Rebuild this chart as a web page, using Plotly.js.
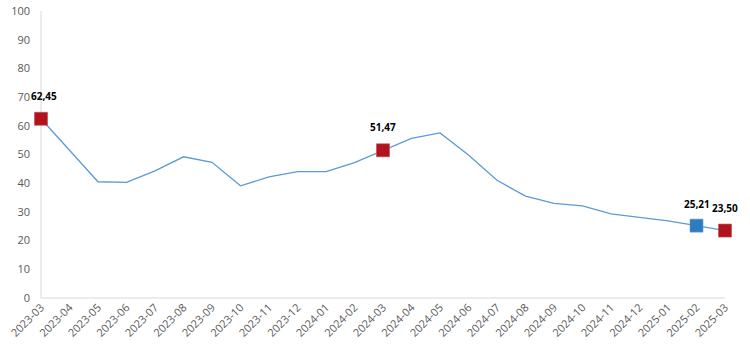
<!DOCTYPE html>
<html>
<head>
<meta charset="utf-8">
<script src="https://cdn.plot.ly/plotly-3.0.1.min.js"></script>
<style>html,body{margin:0;padding:0;background:#fff;}#chart{width:750px;height:353px;}</style>
</head>
<body>
<div id="chart"></div>
<script>
const months = ["2023-03","2023-04","2023-05","2023-06","2023-07","2023-08","2023-09","2023-10","2023-11","2023-12","2024-01","2024-02","2024-03","2024-04","2024-05","2024-06","2024-07","2024-08","2024-09","2024-10","2024-11","2024-12","2025-01","2025-02","2025-03"];
const values = [62.45,51.6,40.5,40.3,44.3,49.2,47.3,39.1,42.2,44.0,44.0,47.2,51.47,55.6,57.5,49.8,41.0,35.5,33.0,32.1,29.3,28.2,26.9,25.21,23.50];
const redMonths = ["2023-03","2024-03","2025-03"];
const redValues = [62.45,51.47,23.50];
const blueMonths = ["2025-02"];
const blueValues = [25.21];
const yTicks = [0,10,20,30,40,50,60,70,80,90,100];

const fmt = v => v.toFixed(2).replace('.', ',');

const traces = [
  {x: months, y: values, type: 'scatter', mode: 'lines', line: {color: '#5b9bd5', width: 1.3}, hoverinfo: 'skip'},
  {x: redMonths, y: redValues, type: 'scatter', mode: 'markers', marker: {symbol: 'square', size: 13, color: '#b0131d', line: {color: '#c8474f', width: 0.6}}, cliponaxis: false},
  {x: blueMonths, y: blueValues, type: 'scatter', mode: 'markers', marker: {symbol: 'square', size: 13, color: '#2e7bbf', line: {color: '#5c9bd3', width: 0.6}}, cliponaxis: false}
];

const annotations = [];
redMonths.forEach((m, i) => annotations.push({x: m, y: redValues[i], text: '<b>' + fmt(redValues[i]) + '</b>', showarrow: false, yshift: 23, xshift: i === 0 ? 3 : 0, font: {size: 10, color: '#000', family: 'Open Sans, sans-serif'}}));
blueMonths.forEach((m, i) => annotations.push({x: m, y: blueValues[i], text: '<b>' + fmt(blueValues[i]) + '</b>', showarrow: false, yshift: 22, font: {size: 10, color: '#000', family: 'Open Sans, sans-serif'}}));

const layout = {
  width: 750, height: 353,
  margin: {l: 41, r: 25, t: 11, b: 55},
  paper_bgcolor: '#fff', plot_bgcolor: '#fff',
  showlegend: false,
  font: {family: 'Open Sans, sans-serif', color: '#595959', size: 11},
  xaxis: {
    type: 'category', categoryorder: 'array', categoryarray: months,
    range: [0, months.length - 1],
    tickangle: -45, showgrid: false, zeroline: false,
    showline: false,
    ticks: '', tickfont: {size: 11, color: '#595959'}
  },
  yaxis: {
    range: [0, 100], tickvals: yTicks, ticktext: yTicks.map(String),
    showgrid: false, zeroline: false,
    showline: false,
    ticks: '', ticklabelstandoff: 10, tickfont: {size: 11, color: '#595959'}
  },
  shapes: [
    {type: 'line', xref: 'paper', yref: 'paper', x0: 0, x1: 0, y0: 0, y1: 1, layer: 'below', line: {color: '#d9d9d9', width: 1}},
    {type: 'line', xref: 'paper', yref: 'paper', x0: 0, x1: 1, y0: 0, y1: 0, layer: 'below', line: {color: '#d9d9d9', width: 1}}
  ],
  annotations: annotations
};

Plotly.newPlot('chart', traces, layout, {displayModeBar: false, staticPlot: true});
</script>
</body>
</html>
